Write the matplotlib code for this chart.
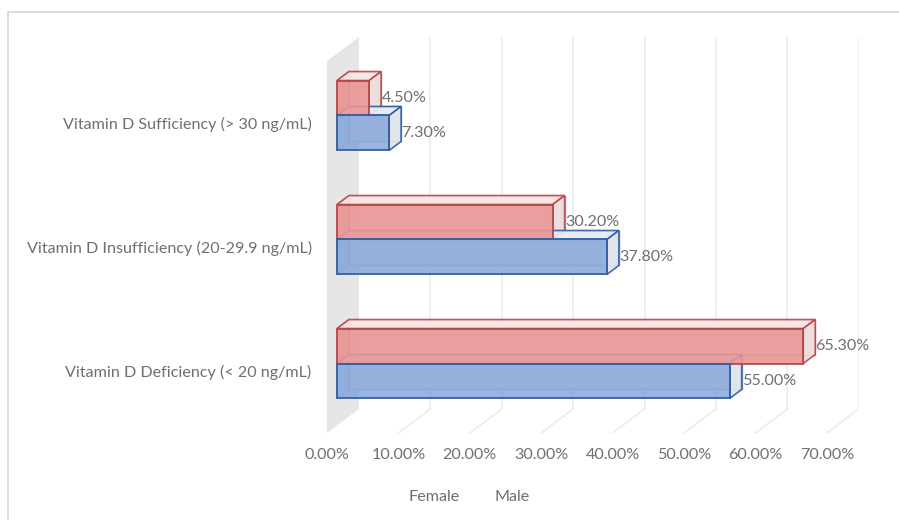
import matplotlib
matplotlib.use("Agg")
import matplotlib.pyplot as plt
from matplotlib.patches import Polygon, Rectangle

categories = [
    "Vitamin D Deficiency (< 20 ng/mL)",
    "Vitamin D Insufficiency (20-29.9 ng/mL)",
    "Vitamin D Sufficiency (> 30 ng/mL)",
]
female = [65.3, 30.2, 4.5]
male = [55.0, 37.8, 7.3]
x_ticks = [0, 10, 20, 30, 40, 50, 60, 70]

# pseudo-3d: full depth of the scene shifts right by DX (%) and up by DY (category units)
DX = 4.48
DY = 0.1935
D_FRONT, D_BACK = 0.3125, 0.6875   # bars sit in the middle slice of the depth
BAR_H = 0.282

W, H = 899, 520
fig = plt.figure(figsize=(W / 100, H / 100), dpi=100)
fig.patch.set_facecolor("white")

# outer chart frame
fig.patches.append(Rectangle((8 / W, -0.1), 1.2, (H - 12) / H + 0.1,
                             transform=fig.transFigure, fill=False,
                             edgecolor="#d9d9d9", lw=1.3))

left, right, bottom, top = 327, 858.8, 433, 37
ax = fig.add_axes([left / W, (H - bottom) / H, (right - left) / W, (bottom - top) / H])
ax.set_xlim(0, 70 + DX)
ax.set_ylim(-0.5, 2.5 + DY)
ax.patch.set_alpha(0)
for s in ax.spines.values():
    s.set_visible(False)

TEXT = "#6f6f6f"
FONT = "Lato"
FS = 11.6

# side wall
ax.add_patch(Polygon([(0, -0.5), (DX, -0.5 + DY), (DX, 2.5 + DY), (0, 2.5)],
                     closed=True, facecolor="#e6e6e6", edgecolor="none", zorder=1))

# gridlines on back wall and floor
for v in x_ticks[1:]:
    ax.plot([v + DX, v + DX], [-0.5 + DY, 2.5 + DY], color="#ececec", lw=1.2, zorder=1)
    ax.plot([v, v + DX], [-0.5, -0.5 + DY], color="#ececec", lw=1.2, zorder=1)


def box(v, y0, face, light, side, edge):
    fx0, fx1 = D_FRONT * DX, D_FRONT * DX + v
    bx0, bx1 = D_BACK * DX, D_BACK * DX + v
    fy0, fy1 = y0 + D_FRONT * DY, y0 + BAR_H + D_FRONT * DY
    by0, by1 = y0 + D_BACK * DY, y0 + BAR_H + D_BACK * DY
    # back face, bottom and left side (seen through the front)
    ax.add_patch(Polygon([(bx0, by0), (bx1, by0), (bx1, by1), (bx0, by1)],
                         facecolor=light, edgecolor=edge, lw=1.0, alpha=0.6, zorder=2))
    ax.add_patch(Polygon([(fx0, fy0), (bx0, by0), (bx0, by1), (fx0, fy1)],
                         facecolor=face, edgecolor=edge, lw=1.0, alpha=0.5, zorder=2))
    # top and right faces
    ax.add_patch(Polygon([(fx0, fy1), (fx1, fy1), (bx1, by1), (bx0, by1)],
                         facecolor=light, edgecolor=edge, lw=1.2, alpha=0.9, zorder=3))
    ax.add_patch(Polygon([(fx1, fy0), (bx1, by0), (bx1, by1), (fx1, fy1)],
                         facecolor=side, edgecolor=edge, lw=1.2, alpha=0.9, zorder=3))
    # front face
    ax.add_patch(Polygon([(fx0, fy0), (fx1, fy0), (fx1, fy1), (fx0, fy1)],
                         facecolor=face, edgecolor=edge, lw=1.4, alpha=0.9, zorder=4))
    ax.text(bx1 + 0.05, (fy0 + fy1) / 2, f"{v:.2f}%", ha="left", va="center",
            fontsize=FS, color=TEXT, family=FONT, zorder=6)


# draw from the top category down so lower boxes overlap correctly
for i in range(len(categories) - 1, -1, -1):
    box(female[i], i, "#e99696", "#f6e7e7", "#ecdcdc", "#b54744")
    box(male[i], i - BAR_H, "#8eaadb", "#e6ebf5", "#dfe3ec", "#2f5d9f")

ax.set_yticks(range(len(categories)))
ax.set_yticklabels(categories)
ax.set_xticks(x_ticks)
ax.set_xticklabels([f"{v:.2f}%" for v in x_ticks])
ax.tick_params(axis="y", length=0, pad=11, labelsize=FS, labelcolor=TEXT)
ax.tick_params(axis="x", length=0, pad=11, labelsize=FS, labelcolor=TEXT)
for lab in ax.get_xticklabels() + ax.get_yticklabels():
    lab.set_family(FONT)

# legend entries
fig.text(434 / W, 1 - 497 / H, "Female", ha="center", va="center",
         fontsize=FS, color=TEXT, family=FONT)
fig.text(512 / W, 1 - 497 / H, "Male", ha="center", va="center",
         fontsize=FS, color=TEXT, family=FONT)

fig.savefig("out.png", dpi=100, facecolor="white")
